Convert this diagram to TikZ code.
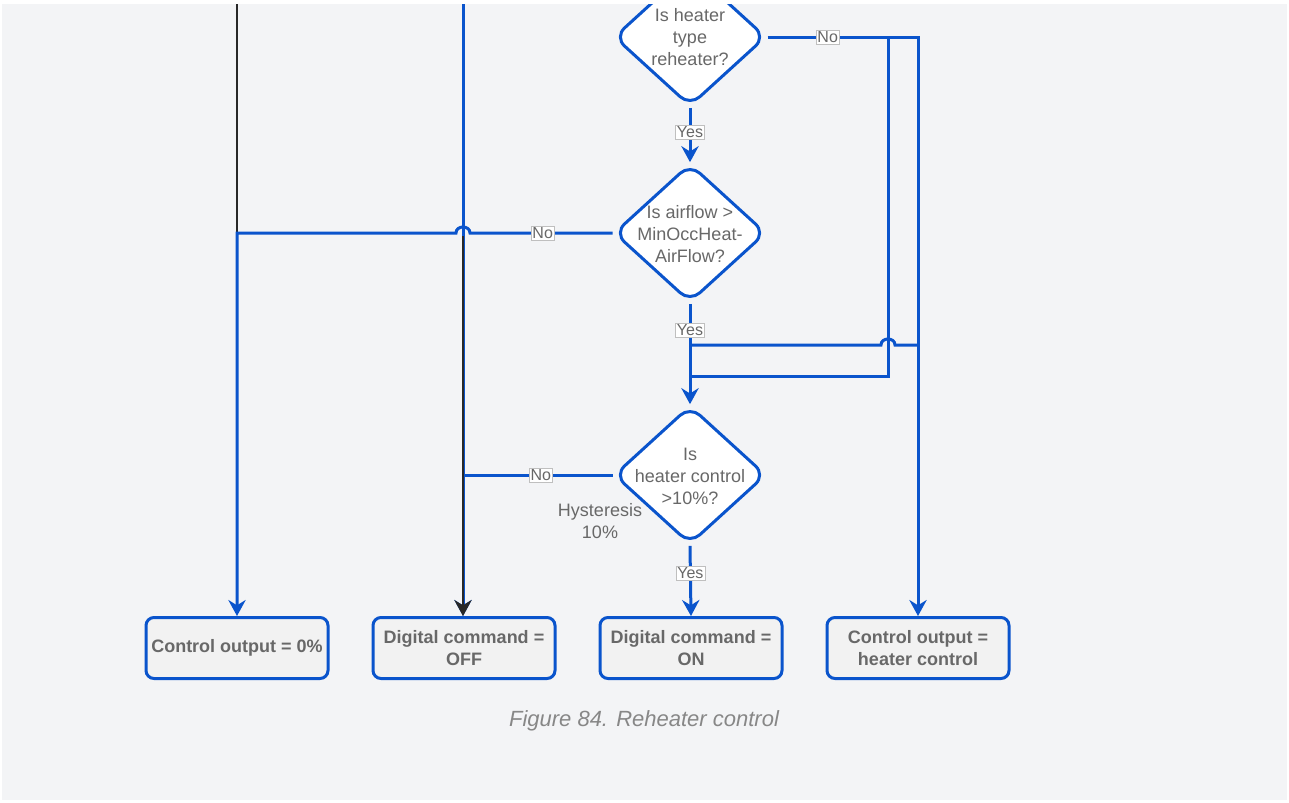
\documentclass[tikz,border=0pt]{standalone}
\usepackage{fontspec}
\setmainfont{Liberation Sans}
\usetikzlibrary{shapes.geometric,arrows.meta}
\definecolor{flowblue}{RGB}{10,84,204}
\definecolor{pagebg}{RGB}{243,244,246}
\definecolor{txtgray}{RGB}{104,104,104}
\definecolor{capgray}{RGB}{135,135,135}
\definecolor{boxfill}{RGB}{242,242,242}
\definecolor{darkline}{RGB}{40,40,40}

\begin{document}
\begin{tikzpicture}[x=0.75pt,y=-0.75pt,
  flow/.style={draw=flowblue, line width=2.25pt},
  arr/.style={-{Stealth[length=12pt,width=13pt,inset=4pt]}},
  plainline/.style={draw=darkline, line width=1.5pt},
  decision/.style={diamond, draw=flowblue, line width=2.25pt, fill=white,
    rounded corners=10pt, minimum width=114pt, minimum height=104pt, inner sep=0pt},
  dtext/.style={text=txtgray, align=center, inner sep=0pt,
    font=\fontsize{13.5}{16.5}\selectfont},
  outbox/.style={draw=flowblue, line width=2.25pt, fill=boxfill, rounded corners=6pt,
    minimum width=136.5pt, minimum height=45.75pt, align=center, text=txtgray,
    inner sep=2pt, font=\fontsize{13.5}{16.5}\selectfont\bfseries},
  tag/.style={fill=white, draw=black!25, line width=0.4pt, text=txtgray,
    font=\fontsize{12}{13}\selectfont, inner sep=1pt}
]
\useasboundingbox (0,0) rectangle (1289,803);
\fill[white] (0,0) rectangle (1289,803);
\fill[pagebg] (2,4) rectangle (1287,800);

\begin{scope}
\clip (2,4) rectangle (1287,800);

% decisions
\node[decision] (d1) at (690,37) {};
\node[dtext] (d1t) at (690,37) {Is heater\\type\\reheater?};
\node[decision] (d2) at (690,233) {};
\node[dtext] (d2t) at (690,234) {Is airflow >\\MinOccHeat-\\AirFlow?};
\node[decision] (d3) at (690,475) {};
\node[dtext] (d3t) at (690,476) {Is\\heater control\\>10\%?};
\node[dtext] (hyst) at (600,521) {Hysteresis\\10\%};

% outputs
\node[outbox] (b1) at (237,648) {Control output = 0\%};
\node[outbox] (b2) at (464,648) {Digital command =\\OFF};
\node[outbox] (b3) at (691,648) {Digital command =\\ON};
\node[outbox] (b4) at (918,648) {Control output =\\heater control};

% caption
\node[font=\fontsize{16.5}{19}\selectfont\itshape, text=capgray] (cap) at (644,721)
  {Figure 84. Reheater control};

% incoming lines from above
\coordinate (topL) at (237,4);
\coordinate (cornerL) at (237,233);
\coordinate (topM) at (463,4);
\coordinate (blackStart) at (463,236);
\draw[plainline] (topL) -- (cornerL);
\draw[flow,arr] (topM) -- (topM |- b2.north);

% heater type check
\draw[flow,arr] (d1.south) -- node[tag,pos=0.45]{Yes} (d2.north);
\draw[flow,arr] (d1.east) -- node[tag,pos=0.40]{No} (b4.north |- d1.east) -- (b4.north);
\coordinate (sp1) at (888,37);
\coordinate (sp1b) at (888,376);
\coordinate (mj) at (690,376);
\draw[flow] (sp1) -- (sp1b) -- (mj);
\coordinate (rj) at (918,345);
\coordinate (lj) at (690,345);
\draw[flow] (rj) -- (895,345) .. controls (895,337) and (881,337) .. (881,345) -- (lj);

% airflow check
\draw[flow,arr] (d2.west) -- node[tag,pos=0.49]{No} (470,233)
  .. controls (470,225) and (456,225) .. (456,233) -- (cornerL) -- (b1.north);
\draw[flow,arr] (d2.south) -- node[tag,pos=0.26]{Yes} (d3.north);

% heater control check
\draw[flow] (d3.west) -- node[tag,pos=0.48]{No} (topM |- d3.west);
\draw[flow,arr] (d3.south) -- node[tag,pos=0.39]{Yes} (b3.north);
\draw[plainline,arr] (blackStart) -- (blackStart |- b2.north);
\end{scope}
\end{tikzpicture}
\end{document}
